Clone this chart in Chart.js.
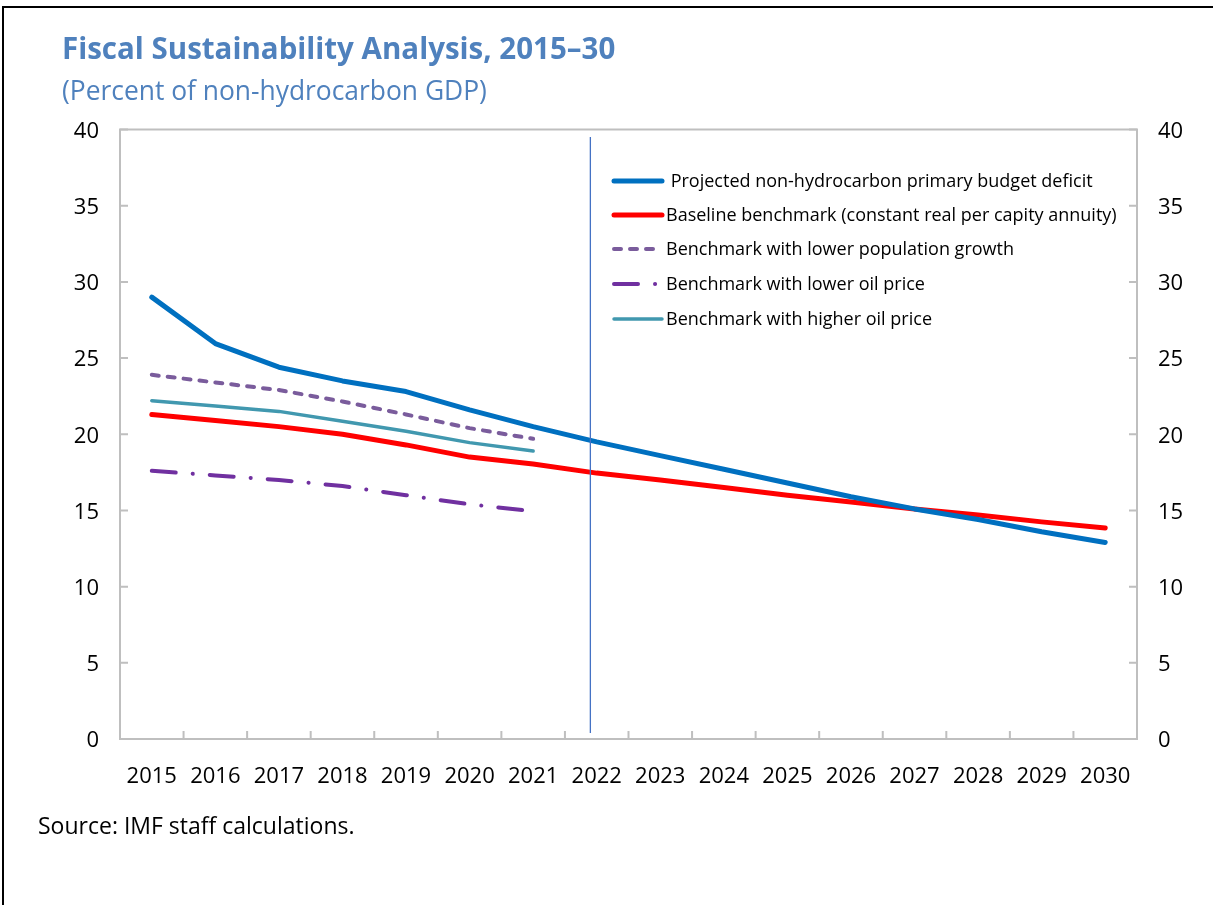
<!DOCTYPE html>
<html>
<head>
<meta charset="utf-8">
<title>Fiscal Sustainability Analysis, 2015–30</title>
<script src="https://cdn.jsdelivr.net/npm/chart.js@4.4.1/dist/chart.umd.min.js"></script>
<style>
  html, body { margin: 0; padding: 0; background: #fff; }
  #wrap { position: relative; width: 1215px; height: 905px; overflow: hidden; font-family: "Open Sans", "Noto Sans", sans-serif; }
  #frame { position: absolute; left: 2px; top: 6px; width: 1211px; height: 920px; border-left: 2px solid #000; border-top: 2px solid #000; box-sizing: border-box; }
  .txt { position: absolute; line-height: 1; white-space: nowrap; }
  #title { left: 62px; top: 33px; font-size: 29.5px; font-weight: 700; color: #4F81BD; }
  #subtitle { left: 62px; top: 77px; font-size: 26.4px; color: #4F81BD; }
  #source { left: 38px; top: 814px; font-size: 23px; color: #000; }
  canvas { position: absolute; left: 0; top: 0; }
</style>
</head>
<body>
<div id="wrap">
  <canvas id="chart" width="1215" height="905"></canvas>
  <div id="frame"></div>
  <div class="txt" id="title">Fiscal Sustainability Analysis, 2015–30</div>
  <div class="txt" id="subtitle">(Percent of non-hydrocarbon GDP)</div>
  <div class="txt" id="source">Source: IMF staff calculations.</div>
</div>
<script>
// Years on the horizontal axis
const years = ['2015', '2016', '2017', '2018', '2019', '2020', '2021', '2022',
               '2023', '2024', '2025', '2026', '2027', '2028', '2029', '2030'];

// Percent of non-hydrocarbon GDP
const projectedDeficit  = [29.0, 25.95, 24.4, 23.5, 22.8, 21.6, 20.5, 19.5,
                           18.6, 17.7, 16.8, 15.9, 15.1, 14.4, 13.6, 12.9];
const baselineBenchmark = [21.3, 20.9, 20.5, 20.0, 19.3, 18.5, 18.05, 17.45,
                           17.0, 16.5, 16.0, 15.55, 15.1, 14.7, 14.25, 13.85];
const lowerPopulation   = [23.9, 23.4, 22.9, 22.15, 21.3, 20.4, 19.7];
const lowerOilPrice     = [17.6, 17.3, 17.0, 16.6, 16.0, 15.4, 14.95];
const higherOilPrice    = [22.2, 21.85, 21.5, 20.85, 20.2, 19.45, 18.9];

// Series names
const seriesLabels = [
  ' Projected non-hydrocarbon primary budget deficit',
  'Baseline benchmark (constant real per capity annuity)',
  'Benchmark with lower population growth',
  'Benchmark with lower oil price',
  'Benchmark with higher oil price'
];

// Value axis ticks
const yMin = 0, yMax = 40, yStep = 5;

// Divider between actual and projected years (category index position)
const dividerAt = 6.9;
const dividerSpan = [0.4, 39.5];

const FONT = '"Open Sans", "Noto Sans", sans-serif';

// Plot box, inward tick marks, divider line and in-plot legend
const decorations = {
  id: 'decorations',
  afterDatasetsDraw(chart) {
    const { ctx, chartArea, scales } = chart;
    const { left, right, top, bottom } = chartArea;
    const x = scales.x, y = scales.y;
    ctx.save();

    // divider
    const dx = x.getPixelForValue(dividerAt);
    ctx.strokeStyle = '#4472C4';
    ctx.lineWidth = 1.3;
    ctx.beginPath();
    ctx.moveTo(dx, y.getPixelForValue(dividerSpan[1]));
    ctx.lineTo(dx, y.getPixelForValue(dividerSpan[0]));
    ctx.stroke();

    // plot box
    ctx.strokeStyle = '#BFBFBF';
    ctx.lineWidth = 2;
    ctx.strokeRect(left, top, right - left, bottom - top);

    // tick marks pointing inwards
    ctx.beginPath();
    y.ticks.forEach((t, i) => {
      const py = y.getPixelForTick(i);
      ctx.moveTo(left, py); ctx.lineTo(left + 8, py);
      ctx.moveTo(right - 8, py); ctx.lineTo(right, py);
    });
    for (let i = 1; i < x.ticks.length; i++) {
      const px = (x.getPixelForTick(i - 1) + x.getPixelForTick(i)) / 2;
      ctx.moveTo(px, bottom); ctx.lineTo(px, bottom - 8);
    }
    ctx.stroke();

    // legend
    const rows = [181, 215, 249, 284, 319];
    const x0 = 614, x1 = 662, tx = 666;
    ctx.font = '18px ' + FONT;
    ctx.textBaseline = 'middle';
    ctx.textAlign = 'left';
    chart.data.datasets.forEach((ds, i) => {
      const ry = rows[i];
      ctx.save();
      ctx.strokeStyle = ds.borderColor;
      ctx.lineWidth = ds.borderWidth;
      ctx.lineCap = ds.borderCapStyle || 'butt';
      ctx.setLineDash(ds.borderDash || []);
      ctx.beginPath();
      ctx.moveTo(x0, ry); ctx.lineTo(x1, ry);
      ctx.stroke();
      ctx.restore();
      ctx.fillStyle = '#000';
      ctx.fillText(ds.label, tx, ry + 1);
    });
    ctx.restore();
  }
};

const tickFont = { family: FONT, size: 22 };

new Chart(document.getElementById('chart'), {
  type: 'line',
  data: {
    labels: years,
    datasets: [
      { label: seriesLabels[0], data: projectedDeficit, borderColor: '#0070C0', borderWidth: 5, borderCapStyle: 'round', borderJoinStyle: 'round' },
      { label: seriesLabels[1], data: baselineBenchmark, borderColor: '#FF0000', borderWidth: 5, borderCapStyle: 'round', borderJoinStyle: 'round' },
      { label: seriesLabels[2], data: lowerPopulation, borderColor: '#7A5C9C', borderWidth: 4, borderCapStyle: 'round', borderDash: [7, 9] },
      { label: seriesLabels[3], data: lowerOilPrice, borderColor: '#7030A0', borderWidth: 4, borderCapStyle: 'round', borderDash: [24, 17, 0.1, 17] },
      { label: seriesLabels[4], data: higherOilPrice, borderColor: '#4198AF', borderWidth: 3.5, borderCapStyle: 'round', borderJoinStyle: 'round' }
    ]
  },
  options: {
    responsive: false,
    animation: false,
    devicePixelRatio: 1,
    layout: { padding: { left: 0, right: 0, top: 129.5, bottom: 106 } },
    elements: { point: { radius: 0 }, line: { tension: 0, fill: false } },
    plugins: { legend: { display: false }, tooltip: { enabled: false }, title: { display: false } },
    scales: {
      x: {
        type: 'category',
        offset: true,
        grid: { display: false, drawTicks: false },
        border: { display: false },
        ticks: { color: '#000', font: tickFont, padding: 25, maxRotation: 0, autoSkip: false },
        afterFit(s) { s.height = 60; }
      },
      y: {
        position: 'left',
        min: yMin, max: yMax,
        grid: { display: false, drawTicks: false },
        border: { display: false },
        ticks: { stepSize: yStep, color: '#000', font: tickFont, padding: 21, labelOffset: 2 },
        afterFit(s) { s.width = 120; }
      },
      y2: {
        position: 'right',
        min: yMin, max: yMax,
        grid: { display: false, drawTicks: false },
        border: { display: false },
        ticks: { stepSize: yStep, color: '#000', font: tickFont, padding: 21, labelOffset: 2 },
        afterFit(s) { s.width = 78; }
      }
    }
  },
  plugins: [decorations]
});
</script>
</body>
</html>
